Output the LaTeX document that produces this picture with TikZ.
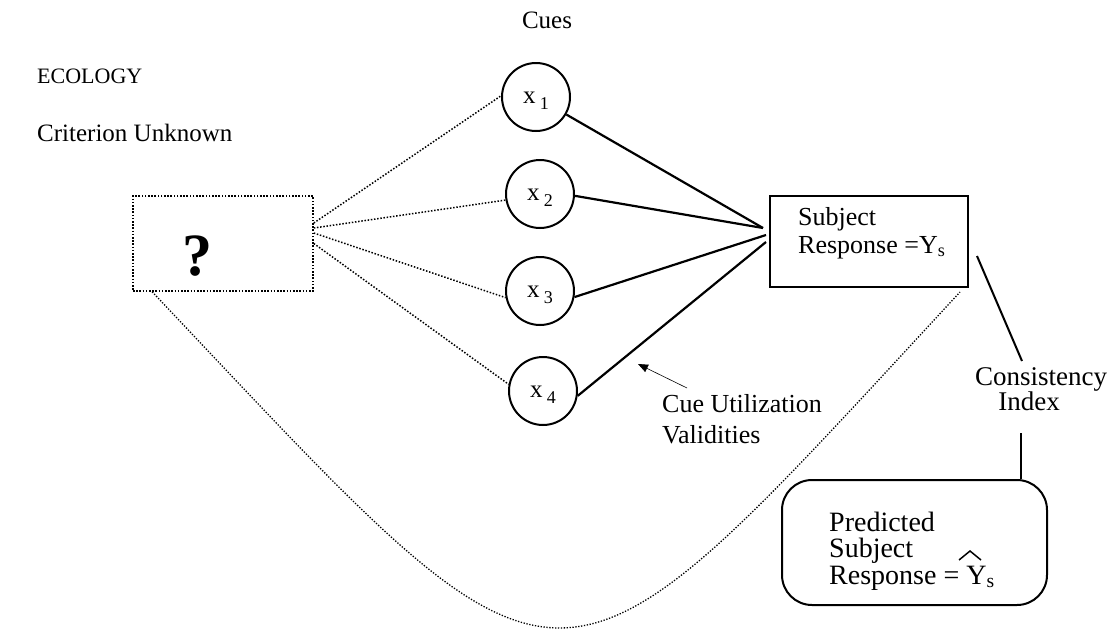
\documentclass[tikz,border=0pt]{standalone}
\usepackage{fontspec}
\setmainfont{Liberation Serif}
\usetikzlibrary{arrows.meta}
\begin{document}
\begin{tikzpicture}[x=1pt,y=-1pt,
  txt/.style={inner sep=0pt, anchor=base west, font=\fontsize{25}{28}\selectfont},
  btxt/.style={inner sep=0pt, anchor=base west, font=\fontsize{28}{28}\selectfont},
  ctxt/.style={inner sep=0pt, anchor=base, font=\fontsize{25}{28}\selectfont},
  cue/.style={circle, draw, line width=2pt, minimum size=68pt, inner sep=0pt, font=\fontsize{25}{28}\selectfont},
  dotl/.style={line width=1.5pt, dash pattern=on 1.5pt off 1.7pt},
  link/.style={line width=2.2pt},
  thinl/.style={line width=2pt}
]
\useasboundingbox (0,0) rectangle (1117,630);

% texts
\node[ctxt] (cues) at (547,28) {Cues};
\node[txt, font=\fontsize{22}{28}\selectfont] (eco) at (37,83) {ECOLOGY};
\node[txt] (crit) at (37,141) {Criterion Unknown};

% criterion box
\node[draw, line width=1.6pt, dash pattern=on 1.6pt off 1.6pt, minimum width=180pt, minimum height=95pt, inner sep=0pt] (q) at (223,243.5) {};
\node[inner sep=0pt, font=\fontsize{60}{60}\selectfont\bfseries] (qm) at (197,256) {?};

% cues
\node[cue] (x1) at (536,97) {\smash{\raisebox{-6pt}{x\,\raisebox{-6pt}{\fontsize{18}{18}\selectfont 1}}}};
\node[cue] (x2) at (540,194) {\smash{\raisebox{-6pt}{x\,\raisebox{-6pt}{\fontsize{18}{18}\selectfont 2}}}};
\node[cue] (x3) at (540,291) {\smash{\raisebox{-6pt}{x\,\raisebox{-6pt}{\fontsize{18}{18}\selectfont 3}}}};
\node[cue] (x4) at (543,391) {\smash{\raisebox{-6pt}{x\,\raisebox{-6pt}{\fontsize{18}{18}\selectfont 4}}}};

% subject box
\node[draw, line width=2pt, minimum width=198pt, minimum height=91pt, inner sep=0pt] (subj) at (869,241.5) {};
\node[txt, font=\fontsize{26}{28}\selectfont] (subj1) at (798,225) {Subject};
\node[txt, font=\fontsize{26}{28}\selectfont] (subj2) at (798,253) {Response =Y\textsubscript{s}};

% predicted box
\node[draw, line width=2pt, rounded corners=30pt, minimum width=265pt, minimum height=125pt, inner sep=0pt] (pred) at (914.5,542.5) {};
\node[btxt] (pred1) at (829,531) {Predicted};
\node[btxt] (pred2) at (829,557) {Subject};
\node[btxt] (pred3) at (829,584) {Response = Y\textsubscript{s}};
\coordinate (hatL) at (959,560);
\coordinate (hatT) at (970,551);
\coordinate (hatR) at (981,560);
\draw[line width=1.5pt] (hatL) -- (hatT) -- (hatR);

% consistency index
\node[ctxt, font=\fontsize{27}{28}\selectfont] (cons1) at (1041,385) {Consistency};
\node[ctxt, font=\fontsize{27}{28}\selectfont] (cons2) at (1029,410) {Index};
\coordinate (ci1) at (977,256);
\coordinate (ci2) at (1022,361);
\coordinate (ci3) at (1021,433);
\draw[thinl] (ci1) -- (ci2);
\draw[thinl] (ci3) -- (ci3 |- pred.north);

% cue utilization validities
\node[txt, font=\fontsize{26}{28}\selectfont] (cuv1) at (662,412) {Cue Utilization};
\node[txt, font=\fontsize{26}{28}\selectfont] (cuv2) at (662,443) {Validities};
\coordinate (arS) at (687,388);
\coordinate (arE) at (638,364);
\draw[line width=0.6pt, -{Triangle[length=10pt,width=8pt]}] (arS) -- (arE);

% dotted ecology lines
\draw[dotl] ([yshift=20.5pt]q.east) -- (x1.178);
\draw[dotl] ([yshift=15.5pt]q.east) -- (x2.190);
\draw[dotl] ([yshift=10.5pt]q.east) -- (x3.191);
\draw[dotl] ([yshift=0pt]q.east) -- (x4.169);

% solid utilization lines
\draw[link] (x1.-30) -- ([xshift=-6pt,yshift=13.5pt]subj.west);
\draw[link] (x2.-3) -- ([xshift=-6pt,yshift=13.5pt]subj.west);
\draw[link] (x3.-10) -- ([xshift=-3pt,yshift=6.5pt]subj.west);
\draw[link] (x4.-8) -- ([xshift=-3pt,yshift=-0.5pt]subj.west);

% big dotted curve
\draw[line width=1.3pt, dash pattern=on 1.3pt off 1.6pt]
  ([xshift=20pt]q.south west) .. controls (576,740) and (545,740) .. ([xshift=-9pt,yshift=-4pt]subj.south east);
\end{tikzpicture}
\end{document}
